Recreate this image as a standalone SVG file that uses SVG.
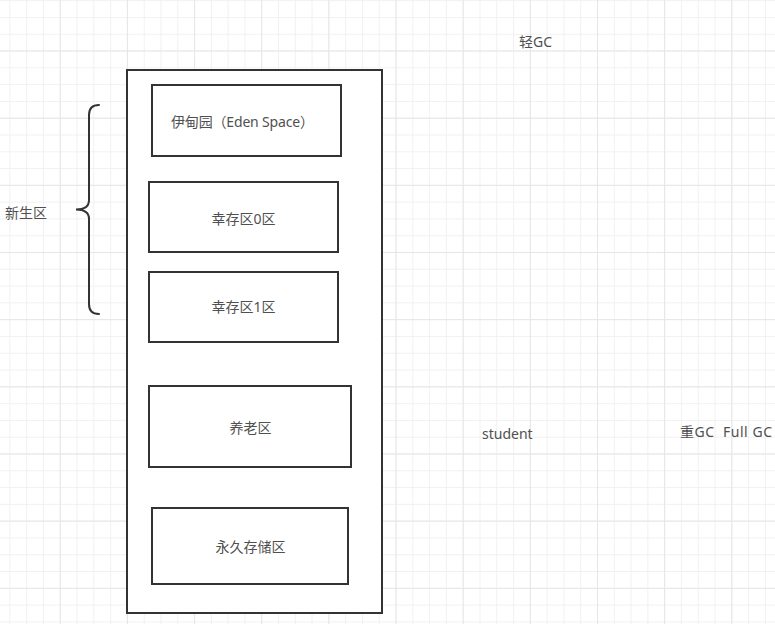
<svg xmlns="http://www.w3.org/2000/svg" width="775" height="624" viewBox="0 0 775 624">
  <style>
    .box { fill: #ffffff; stroke: #333333; stroke-width: 2; }
    .lbl { font-family: "Noto Sans", "Noto Sans CJK SC", sans-serif; font-size: 14px; fill: #505050; }
    .mid { text-anchor: middle; }
    .brace { fill: none; stroke: #333333; stroke-width: 2; stroke-linecap: round; }
  </style>
  <defs>
    <pattern id="minor" patternUnits="userSpaceOnUse" x="9.37" y="0.17" width="16.79" height="16.79">
      <path d="M0.5 0 V16.79 M0 0.5 H16.79" stroke="#f1f1f1" stroke-width="1" fill="none"/>
    </pattern>
    <pattern id="major" patternUnits="userSpaceOnUse" x="59.74" y="50.5" width="67.16" height="67.16">
      <path d="M0.5 0 V67.16 M0 0.5 H67.16" stroke="#e6e6e6" stroke-width="1" fill="none"/>
    </pattern>
  </defs>
  <rect x="0" y="0" width="775" height="624" fill="#ffffff"/>
  <rect x="0" y="0" width="775" height="624" fill="url(#minor)"/>
  <rect x="0" y="0" width="775" height="624" fill="url(#major)"/>

  <g id="heap">
    <rect class="box" x="127" y="70" width="255" height="543"/>
  </g>
  <g id="eden">
    <rect class="box" x="152" y="85" width="189" height="71"/>
    <text class="lbl" x="171" y="127" textLength="143">伊甸园（Eden Space）</text>
  </g>
  <g id="survivor0">
    <rect class="box" x="149" y="182" width="189" height="70"/>
    <text class="lbl mid" x="243.5" y="224">幸存区0区</text>
  </g>
  <g id="survivor1">
    <rect class="box" x="149" y="272" width="189" height="70"/>
    <text class="lbl mid" x="243.5" y="312">幸存区1区</text>
  </g>
  <g id="old">
    <rect class="box" x="149" y="386" width="202" height="81"/>
    <text class="lbl mid" x="250.5" y="433">养老区</text>
  </g>
  <g id="permanent">
    <rect class="box" x="152" y="508" width="196" height="76"/>
    <text class="lbl mid" x="250.5" y="552">永久存储区</text>
  </g>
  <g id="connectors">
    <path class="brace" d="M99 105 Q89 105 89 115 L89 200 Q89 209.5 76 209.5 Q89 209.5 89 219 L89 304 Q89 314 99 314"/>
  </g>
  <g id="young-label">
    <text class="lbl" x="5" y="218">新生区</text>
  </g>
  <g id="minor-gc">
    <text class="lbl" x="519" y="46.5">轻GC</text>
  </g>
  <g id="student">
    <text class="lbl" x="482" y="439">student</text>
  </g>
  <g id="full-gc">
    <text class="lbl" x="680" y="436.5" textLength="92" xml:space="preserve">重GC  Full GC</text>
  </g>
</svg>
